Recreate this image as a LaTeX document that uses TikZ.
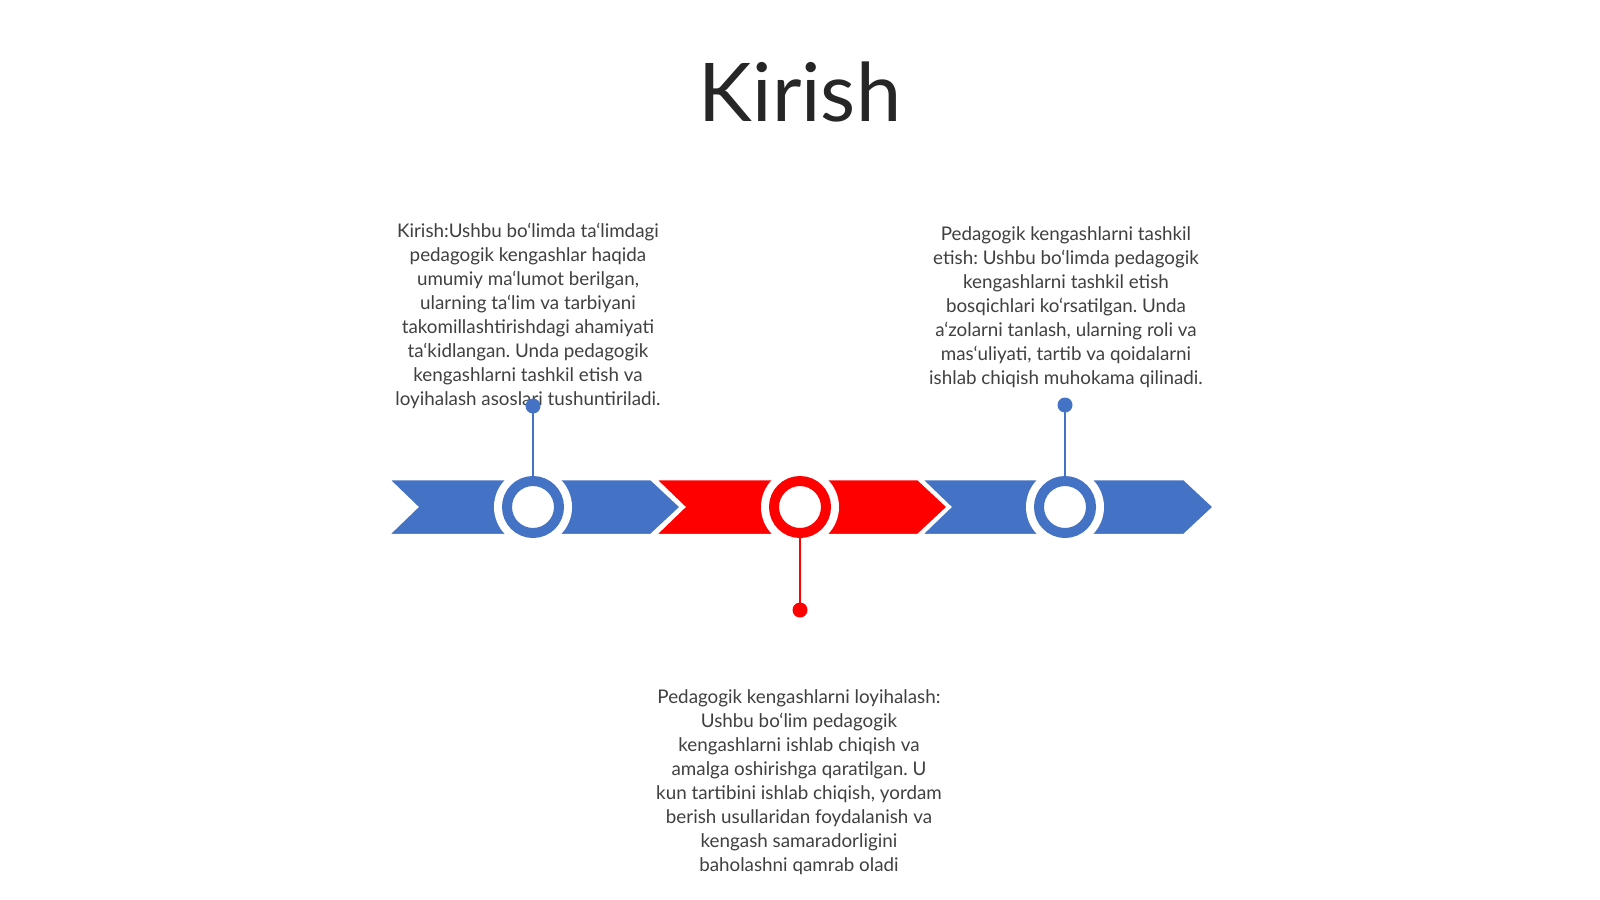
\documentclass[tikz,border=0pt]{standalone}
\usepackage{fontspec}
\setmainfont{Lato}
\definecolor{tlblue}{HTML}{4472C4}
\definecolor{tlred}{HTML}{FF0000}
\definecolor{txtgray}{HTML}{404040}
\definecolor{titlegray}{HTML}{262626}
\tikzset{
  chevblue/.style={fill=tlblue, draw=white, line width=2.5pt, line join=miter},
  chevred/.style={fill=tlred, draw=white, line width=2.5pt, line join=miter},
  ringblue/.style={circle, draw=tlblue, fill=white, line width=10pt, minimum size=52pt, inner sep=0pt},
  ringred/.style={circle, draw=tlred, fill=white, line width=10pt, minimum size=52pt, inner sep=0pt},
  halo/.style={circle, fill=white, minimum size=78pt, inner sep=0pt},
  dotblue/.style={circle, fill=tlblue, minimum size=15pt, inner sep=0pt},
  dotred/.style={circle, fill=tlred, minimum size=15pt, inner sep=0pt},
  stemblue/.style={draw=tlblue, line width=2.6pt},
  stemred/.style={draw=tlred, line width=2.6pt},
  bodytext/.style={align=center, text=txtgray, font=\fontsize{18.8}{24}\selectfont\frenchspacing, inner sep=0pt},
}
\newcommand{\chevpath}[1]{(#1,479) -- ++(263,0) -- ++(30,28) -- ++(-30,28) -- ++(-263,0) -- ++(29,-28) -- cycle}
\begin{document}
\begin{tikzpicture}[x=1pt,y=-1pt]
\useasboundingbox[fill=white] (0,0) rectangle (1600,899);
% title
\node[text=titlegray, font=\fontsize{81}{96}\selectfont, inner sep=0pt] (title) at (800,92) {Kirish};
% chevrons
\path[chevblue] \chevpath{388};
\path[chevred] \chevpath{655};
\path[chevblue] \chevpath{921};
% halos and rings
\node[halo] (h1) at (533,507) {};
\node[halo] (h2) at (800,507) {};
\node[halo] (h3) at (1065,507) {};
\node[ringblue] (c1) at (533,507) {};
\node[ringred] (c2) at (800,507) {};
\node[ringblue] (c3) at (1065,507) {};
% texts
\node[bodytext] (t1) at (528,316) {Kirish:Ushbu bo‘limda ta‘limdagi\\pedagogik kengashlar haqida\\umumiy ma‘lumot berilgan,\\ularning ta‘lim va tarbiyani\\takomillashtirishdagi ahamiyati\\ta‘kidlangan. Unda pedagogik\\kengashlarni tashkil etish va\\loyihalash asoslari tushuntiriladi.};
\node[bodytext] (t2) at (1066,307) {Pedagogik kengashlarni tashkil\\etish: Ushbu bo‘limda pedagogik\\kengashlarni tashkil etish\\bosqichlari ko‘rsatilgan. Unda\\a‘zolarni tanlash, ularning roli va\\mas‘uliyati, tartib va qoidalarni\\ishlab chiqish muhokama qilinadi.};
\node[bodytext] (t3) at (799,782) {Pedagogik kengashlarni loyihalash:\\Ushbu bo‘lim pedagogik\\kengashlarni ishlab chiqish va\\amalga oshirishga qaratilgan. U\\kun tartibini ishlab chiqish, yordam\\berish usullaridan foydalanish va\\kengash samaradorligini\\baholashni qamrab oladi};
% dots and stems
\node[dotblue] (d1) at (533,406) {};
\node[dotred] (d2) at (800,610) {};
\node[dotblue] (d3) at (1065,405) {};
\draw[stemblue] (c1.north) -- (d1.center);
\draw[stemred] (c2.south) -- (d2.center);
\draw[stemblue] (c3.north) -- (d3.center);
\end{tikzpicture}
\end{document}
